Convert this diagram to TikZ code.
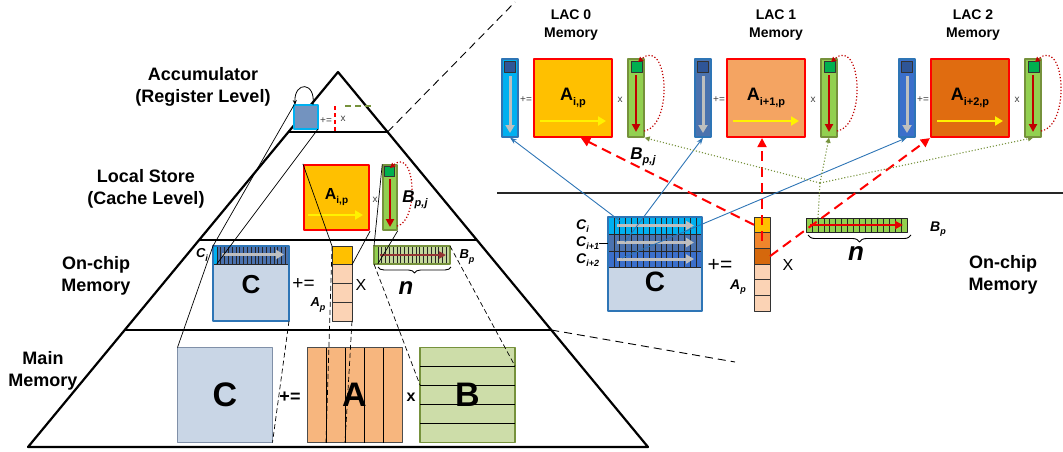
\documentclass[tikz,border=0pt]{standalone}
\usepackage{fontspec}
\setmainfont{Liberation Sans}
\usetikzlibrary{arrows.meta,decorations.pathreplacing,positioning,calc}

\definecolor{cfill}{HTML}{C9D6E6}
\definecolor{cborder}{HTML}{2E75B6}
\definecolor{cgrey}{HTML}{8090A8}
\definecolor{cyanC}{HTML}{00B0F0}
\definecolor{steelC}{HTML}{4B72AE}
\definecolor{royalC}{HTML}{3B6FCB}
\definecolor{lacblue}{HTML}{2F5597}
\definecolor{accfill}{HTML}{7393BF}
\definecolor{goldA}{HTML}{FFC000}
\definecolor{orangeA}{HTML}{F4A462}
\definecolor{darkA}{HTML}{E06C10}
\definecolor{apOrange}{HTML}{F0852C}
\definecolor{apDark}{HTML}{D5680C}
\definecolor{peachA}{HTML}{FBD3B5}
\definecolor{mainA}{HTML}{F7B67E}
\definecolor{greenB}{HTML}{92D050}
\definecolor{paleB}{HTML}{C4D79B}
\definecolor{mainB}{HTML}{CDDDA9}
\definecolor{oliveB}{HTML}{76923C}
\definecolor{darkgreenB}{HTML}{00B050}
\definecolor{lacred}{HTML}{C00000}
\definecolor{brownR}{HTML}{963634}

\newcommand{\symsub}[3]{#1\raisebox{-0.25em}{\fontsize{#3}{#3}\selectfont #2}}

\tikzset{
  pyr/.style={line width=2.2pt},
  guide/.style={line width=0.9pt,dash pattern=on 8pt off 5pt},
  lvl/.style={font=\fontsize{18}{22}\selectfont\bfseries,align=center},
  laclbl/.style={font=\fontsize{14}{18}\selectfont\bfseries,align=center},
  abox/.style={draw=red,line width=2.2pt,minimum size=78pt,inner sep=0pt,font=\fontsize{18}{18}\selectfont\bfseries},
  ccol/.style={draw=cborder,line width=1.2pt,minimum width=16pt,minimum height=78pt,inner sep=0pt},
  bcol/.style={draw=oliveB,fill=greenB,line width=1.5pt,minimum width=16pt,minimum height=78pt,inner sep=0pt},
  sqr/.style={draw=black!80,line width=0.8pt,minimum size=11pt,inner sep=0pt},
  cell/.style={inner sep=0pt,outer sep=0pt},
  apcell/.style={cell,draw=black!80,line width=0.8pt,minimum width=20pt,minimum height=18.75pt},
  aprcell/.style={cell,draw=black!80,line width=0.8pt,minimum width=16pt,minimum height=15.67pt},
  mbox/.style={cell,minimum size=95pt},
  grid/.style={black!85,line width=0.55pt},
  greyarrow/.style={draw=black!25,line width=3pt,-{Triangle[length=8pt,width=9pt]}},
  yellowarrow/.style={draw=yellow,line width=2.5pt,-{Triangle[length=8pt,width=9pt]}},
  rdown/.style={draw=lacred,line width=2pt,-{Triangle[length=8pt,width=8pt]}},
  redloop/.style={draw=lacred,dotted,line width=1.2pt,-{Triangle[length=5pt,width=5pt]}},
  small/.style={font=\fontsize{10}{10}\selectfont,text=black!75,inner sep=0pt},
  plus/.style={font=\fontsize{19}{19}\selectfont,inner sep=0pt},
  bigl/.style={font=\fontsize{34}{34}\selectfont\bfseries,inner sep=0pt},
  symb/.style={font=\fontsize{14}{14}\selectfont\bfseries\itshape,inner sep=0pt},
  proj/.style={black,line width=0.7pt},
  projd/.style={proj,dash pattern=on 5pt off 3pt},
  bline/.style={draw=cborder,line width=0.9pt,-{Stealth[length=7pt,width=5pt]}},
  rdash/.style={draw=red,line width=2pt,dash pattern=on 10pt off 6pt,-{Triangle[length=9pt,width=9pt]}},
  gdot/.style={draw=oliveB,line width=1.1pt,dotted,-{Triangle[length=5pt,width=5pt]}}
}

\begin{document}
\begin{tikzpicture}[x=1pt,y=-1pt,line join=round,>=Stealth]
\useasboundingbox (0,0) rectangle (1063,451);

% pyramid and levels
\coordinate (apex) at (338,72);
\coordinate (bl) at (28,447);
\coordinate (br) at (648,447);
\draw[pyr] (bl) -- (apex) -- (br) -- cycle;
\foreach \t/\n in {0.16/1,0.448/2,0.688/3}
{
  \coordinate (l\n) at ($(apex)!\t!(bl)$);
  \coordinate (r\n) at ($(apex)!\t!(br)$);
  \draw[pyr] (l\n) -- (r\n);
}
\draw[guide] (r1) -- (515,2);
\draw[guide] (r3) -- (735,362);
\draw[line width=2.2pt,black!85] (497,193) -- (1063,193);

% level names
\node[lvl] (accl) at (203,87) {Accumulator\\(Register Level)};
\node[lvl] (lsl) at (146,189) {Local Store\\(Cache Level)};
\node[lvl] (ocl) at (96,276) {On-chip\\Memory};
\node[lvl] (mml) at (43,371) {Main\\Memory};
\node[lvl] (ocr) at (1003,275) {On-chip\\Memory};

% accumulator
\node[cell,fill=accfill,draw=cyanC,line width=2pt,minimum size=24pt] (acc) at (306,117) {};
\node[small] (accpe) at (326,121) {+=};
\draw[red,line width=2pt,dash pattern=on 4pt off 3pt] (335,106) -- (335,131);
\node[small] (accx) at (343,119) {x};
\draw[oliveB,line width=2pt,dash pattern=on 6pt off 4pt] (345,106) -- (372,106);
\draw[line width=0.8pt,-{Stealth[length=5pt,width=4pt]}] ([xshift=-5pt]acc.north east) .. controls (316,81) and (294,81) .. ([xshift=1pt]acc.north west);

% local store
\node[abox,minimum size=65pt,font=\fontsize{16}{16}\selectfont\bfseries,fill=goldA] (Als) at (336.5,197.5) {\symsub{A}{i,p}{10}};
\draw[yellowarrow] (308,215) -- (363,215);
\node[small] (lsx) at (375,200) {x};
\node[bcol,minimum width=14pt,minimum height=65pt] (Bls) at (390,197.5) {};
\node[sqr,fill=darkgreenB,minimum size=10pt] (blsq) at (389.5,171.5) {};
\draw[rdown] (390,179) -- (390,227);
\draw[redloop] (397,226) .. controls (419,222) and (416,146) .. (390,168);
\node[symb,font=\fontsize{17}{17}\selectfont\bfseries\itshape] (bpjl) at (415,200) {\symsub{B}{p,j}{11}};

% on-chip memory (pyramid)
\node[cell,fill=cfill,minimum width=76pt,minimum height=75pt] (Coc) at (251,283.5) {};
\fill[steelC] (213,246) rectangle (289,264);
\node[cell,fill=cyanC,minimum width=3.8pt,minimum height=18pt] (cio) at (214.9,255) {};
\foreach \i in {1,...,19}
  \draw[grid] ({213+\i*3.8},246) -- ++(0,18);
\draw[grid] (213,264) -- (289,264);
\draw[greyarrow,line width=2.5pt] (222,254.5) -- (284,254.5);
\draw[cborder,line width=1.5pt] (Coc.north west) rectangle (Coc.south east);
\node[bigl,font=\fontsize{26}{26}\selectfont\bfseries] (cocl) at (251,285) {C};
\node[symb,font=\fontsize{13}{13}\selectfont\bfseries\itshape] (cil) at (202,255) {\symsub{C}{i}{9}};
\node[plus] (ocpe) at (303.5,284) {+=};
\foreach \c/\col in {1/goldA,2/peachA,3/peachA,4/peachA}
  \node[apcell,fill=\col] (apo\c) at (342,{246+(\c-0.5)*18.75}) {};
\node[plus,font=\fontsize{16}{16}\selectfont] (ocx) at (361,285) {X};
\node[symb,font=\fontsize{13}{13}\selectfont\bfseries\itshape] (apl) at (318,305) {\symsub{A}{p}{9}};
\node[cell,fill=paleB,minimum width=76pt,minimum height=18pt] (Bpo) at (412,255) {};
\node[cell,fill=greenB,minimum width=3.8pt,minimum height=18pt] (bpo1) at (375.9,255) {};
\foreach \i in {1,...,19}
  \draw[grid] ({374+\i*3.8},246) -- ++(0,18);
\draw[oliveB,line width=1.2pt] (Bpo.north west) rectangle (Bpo.south east);
\draw[brownR,line width=1.8pt,-{Triangle[length=7pt,width=7pt]}] (380,255) -- (446,255);
\draw[decorate,decoration={brace,mirror,amplitude=6pt},line width=0.9pt] (378,267) -- (451,267);
\node[symb,font=\fontsize{24}{24}\selectfont\bfseries\itshape] (nl) at (406,288) {n};
\node[symb,font=\fontsize{13}{13}\selectfont\bfseries\itshape] (bpl) at (467,257) {\symsub{B}{p}{9}};

% main memory
\node[mbox,fill=cfill,draw=cgrey,line width=1pt] (Cm) at (225,395) {};
\node[bigl] (cml) at (Cm.center) {C};
\node[plus,font=\fontsize{18}{18}\selectfont\bfseries] (mpe) at (290,397) {+=};
\node[mbox,fill=mainA,draw=black!70,line width=0.8pt] (Am) at (354.5,395) {};
\foreach \xx in {326,345,364,383}
  \draw[line width=0.6pt] (\xx,347.5) -- (\xx,442.5);
\node[bigl] (aml) at (Am.center) {A};
\node[plus,font=\fontsize{16}{16}\selectfont\bfseries] (mx) at (411,397) {x};
\node[mbox,fill=mainB,draw=oliveB,line width=1.5pt] (Bm) at (467.5,395) {};
\foreach \yy in {366,385,404,423}
  \draw[line width=0.6pt] (420,\yy) -- (515,\yy);
\node[bigl] (bml) at (Bm.center) {B};

% projections between levels
\draw[proj] (acc.north west) -- (cio.north west);
\draw[proj] (acc.south east) -- (cio.south east);
\draw[proj] (Als.north west) -- (apo1.north west);
\draw[proj] (Als.south east) -- (apo1.south east);
\draw[proj] (Bls.north west) -- (bpo1.north west);
\draw[proj] (Bls.south east) -- (bpo1.south east);
\draw[proj] (Coc.north west) -- (Cm.north west);
\draw[projd] (Coc.south east) -- (Cm.south east);
\draw[projd] (apo1.north west) -- ([xshift=19pt]Am.south west);
\draw[projd] (apo4.south east) -- ([xshift=38pt]Am.south west);
\draw[projd] (Bpo.south west) -- ([yshift=-37.5pt]Bm.north west);
\draw[projd] (Bpo.north east) -- ([yshift=-18.5pt]Bm.north east);

% LAC memories
\foreach \bx/\k/\colC/\colA/\subs/\lx in {502/0/cyanC/goldA/{i,p}/571,695/1/steelC/orangeA/{i+1,p}/776,899/2/royalC/darkA/{i+2,p}/973}
{
  \node[laclbl] (lac\k) at (\lx,25) {LAC \k\\Memory};
  \node[ccol,fill=\colC] (col\k) at (\bx+8,98) {};
  \node[sqr,fill=lacblue] (cs\k) at (\bx+8,67) {};
  \draw[greyarrow] (\bx+8,76) -- (\bx+8,133);
  \node[small] (pe\k) at (\bx+24,100) {+=};
  \node[abox,fill=\colA] (A\k) at (\bx+71,98) {\symsub{A}{\subs}{11}};
  \draw[yellowarrow] (\bx+38,121) -- (\bx+104,121);
  \node[small] (x\k) at (\bx+118,100) {x};
  \node[bcol] (B\k) at (\bx+134,98) {};
  \node[sqr,fill=darkgreenB] (bs\k) at (\bx+134.5,66.5) {};
  \draw[rdown] (\bx+134,75) -- (\bx+134,132);
  \draw[redloop] (\bx+142,131) .. controls (\bx+172,126) and (\bx+166,36) .. (\bx+136,62);
}

% on-chip memory (LAC side)
\node[cell,fill=cfill,minimum size=94pt] (Cr) at (655,264) {};
\fill[cyanC] (608,217) rectangle (702,234);
\fill[steelC] (608,234) rectangle (702,251);
\fill[royalC] (608,251) rectangle (702,267);
\foreach \i in {1,...,15}
  \draw[grid] ({608+\i*94/16},217) -- ++(0,50);
\foreach \yy in {234,251,267}
  \draw[grid,line width=0.8pt] (608,\yy) -- (702,\yy);
\foreach \yy in {225.5,242.5,259}
  \draw[greyarrow] (617,\yy) -- (694,\yy);
\draw[cborder,line width=1.8pt] (Cr.north west) rectangle (Cr.south east);
\node[bigl,font=\fontsize{28}{28}\selectfont\bfseries] (crl) at (655,282) {C};
\node[symb,anchor=west] (cr0) at (576,226) {\symsub{C}{i}{9}};
\node[symb,anchor=west] (cr1) at (576,243) {\symsub{C}{i+1}{9}};
\node[symb,anchor=west] (cr2) at (576,260) {\symsub{C}{i+2}{9}};
\draw[line width=0.8pt] (cr1.east) -- (Cr.west |- cr1.east);
\node[plus,font=\fontsize{21}{21}\selectfont] (rpe) at (720,265) {+=};
\foreach \c/\col in {1/goldA,2/apOrange,3/apDark,4/peachA,5/peachA,6/peachA}
  \node[aprcell,fill=\col] (apr\c) at (762,{217+(\c-0.5)*15.67}) {};
\node[plus,font=\fontsize{16}{16}\selectfont] (rx) at (788,265) {X};
\node[symb] (aprl) at (738,287) {\symsub{A}{p}{9}};
\node[cell,fill=greenB,minimum width=101pt,minimum height=14pt] (Bpr) at (856.5,225) {};
\foreach \i in {1,...,16}
  \draw[grid] ({806+\i*101/17},218) -- ++(0,14);
\draw[black!85,line width=0.9pt] (Bpr.north west) rectangle (Bpr.south east);
\draw[red!90!black,line width=2pt,-{Triangle[length=8pt,width=8pt]}] (810,225) -- (903,225);
\draw[decorate,decoration={brace,mirror,amplitude=7pt},line width=0.9pt] (808,235) -- (911,235);
\node[symb,font=\fontsize{26}{26}\selectfont\bfseries\itshape] (nr) at (856,254) {n};
\node[symb] (bprl) at (938,229) {\symsub{B}{p}{9}};
\node[symb,font=\fontsize{17}{17}\selectfont\bfseries\itshape] (bpjr) at (643,157) {\symsub{B}{p,j}{11}};

% distribution to the LACs
\coordinate (c0) at (620,221);
\coordinate (c1) at (625,242);
\coordinate (c2) at (622,258);
\draw[bline] (c0) -- (col0.south);
\draw[bline] (c1) -- (col1.south);
\draw[bline] (c2) -- (col2.south);
\draw[rdash] (apr1.west) -- ([xshift=8pt]A0.south);
\draw[rdash] (apr2.center) -- (apr2.center |- A1.south);
\draw[rdash] (apr3.east) -- (A2.south west);
\coordinate (J) at (820,183);
\draw[gdot,-] ([xshift=12pt]Bpr.north west) -- (J);
\draw[gdot] (J) -- (B0.south east);
\draw[gdot] (J) -- (B1.south);
\draw[gdot] (J) -- (B2.south);
\end{tikzpicture}
\end{document}
